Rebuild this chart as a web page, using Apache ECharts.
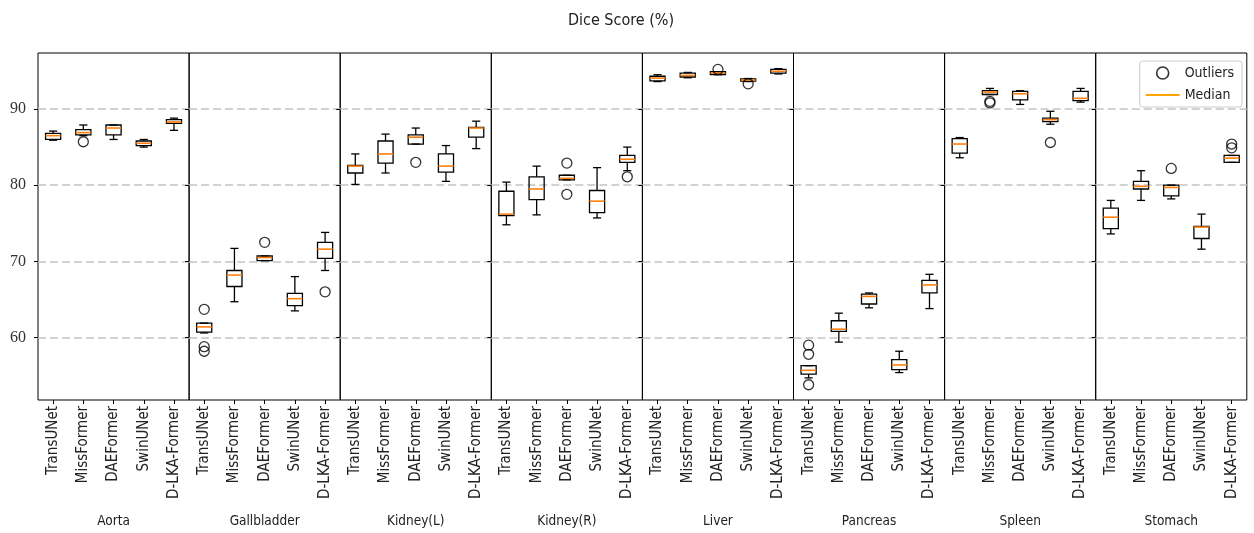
<!DOCTYPE html>
<html>
<head>
<meta charset="utf-8">
<title>Dice Score (%)</title>
<script src="https://cdn.jsdelivr.net/npm/echarts@6.0.0/dist/echarts.min.js"></script>
<style>
  html,body{margin:0;padding:0;background:#fff;}
  #chart{width:1254px;height:533px;}
</style>
</head>
<body>
<div id="chart"></div>
<script>
const organs = ['Aorta', 'Gallbladder', 'Kidney(L)', 'Kidney(R)', 'Liver', 'Pancreas', 'Spleen', 'Stomach'];
const models = ['TransUNet', 'MissFormer', 'DAEFormer', 'SwinUNet', 'D-LKA-Former'];
const yTicks = [60, 70, 80, 90];

// per model: [low whisker, q1, median, q3, high whisker]
const aorta       = [[85.9, 86.0, 86.5, 86.8, 87.1], [86.5, 86.6, 86.9, 87.3, 87.9], [86.0, 86.6, 87.5, 87.9, 87.9], [85.0, 85.2, 85.5, 85.8, 86.0], [87.2, 88.1, 88.3, 88.6, 88.8]];
const gallbladder = [[60.6, 60.7, 61.4, 61.9, 61.9], [64.7, 66.7, 68.2, 68.8, 71.7], [70.1, 70.1, 70.5, 70.7, 70.7], [63.5, 64.2, 65.1, 65.8, 68.0], [68.8, 70.4, 71.6, 72.5, 73.8]];
const kidneyL     = [[80.1, 81.6, 82.5, 82.6, 84.1], [81.6, 82.9, 84.1, 85.8, 86.7], [85.4, 85.4, 86.3, 86.6, 87.5], [80.5, 81.7, 82.5, 84.1, 85.2], [84.8, 86.3, 87.5, 87.6, 88.4]];
const kidneyR     = [[74.8, 76.0, 76.2, 79.2, 80.4], [76.1, 78.1, 79.5, 81.1, 82.5], [80.7, 80.7, 80.9, 81.3, 81.3], [75.7, 76.4, 77.9, 79.3, 82.3], [81.9, 83.0, 83.4, 83.9, 85.0]];
const liver       = [[93.6, 93.7, 94.05, 94.3, 94.5], [94.1, 94.2, 94.4, 94.7, 94.8], [94.5, 94.5, 94.7, 94.9, 94.9], [93.6, 93.65, 93.8, 93.95, 94.0], [94.6, 94.7, 94.95, 95.2, 95.3]];
const pancreas    = [[54.7, 55.2, 55.7, 56.3, 56.3], [59.4, 60.8, 61.1, 62.2, 63.2], [63.9, 64.4, 65.4, 65.7, 65.85], [55.4, 55.8, 56.4, 57.1, 58.2], [63.8, 65.85, 66.9, 67.5, 68.3]];
const spleen      = [[83.6, 84.2, 85.4, 86.1, 86.25], [91.9, 91.9, 92.2, 92.4, 92.7], [90.6, 91.2, 92.0, 92.3, 92.4], [88.0, 88.35, 88.6, 88.8, 89.7], [90.9, 91.1, 91.4, 92.3, 92.7]];
const stomach     = [[73.6, 74.3, 75.8, 77.0, 78.0], [78.0, 79.5, 79.85, 80.5, 81.9], [78.2, 78.6, 79.7, 80.0, 80.0], [71.6, 73.0, 74.5, 74.6, 76.2], [83.0, 83.0, 83.55, 83.9, 83.9]];

// outliers: [model index, value]
const aortaOut       = [[1, 85.7]];
const gallbladderOut = [[0, 63.7], [0, 58.8], [0, 58.2], [2, 72.5], [4, 66.0]];
const kidneyLOut     = [[2, 83.0]];
const kidneyROut     = [[2, 82.9], [2, 78.8], [4, 81.1]];
const liverOut       = [[2, 95.2], [3, 93.3]];
const pancreasOut    = [[0, 59.0], [0, 57.8], [0, 53.8]];
const spleenOut      = [[1, 90.8], [1, 91.0], [3, 85.6]];
const stomachOut     = [[2, 82.2], [4, 85.4], [4, 84.9]];

const boxes = [aorta, gallbladder, kidneyL, kidneyR, liver, pancreas, spleen, stomach];
const outs = [aortaOut, gallbladderOut, kidneyLOut, kidneyROut, liverOut, pancreasOut, spleenOut, stomachOut];

const FONT = '"Liberation Sans Narrow", "DejaVu Sans Condensed", "Liberation Sans", sans-serif';
const left0 = 38, panelW = 151.1, top0 = 53, panelH = 349;
const yMin = 51.8, yMax = 97.35;

function renderBox(params, api) {
  const x = api.value(0);
  const lo = api.coord([x, api.value(1)]);
  const q1 = api.coord([x, api.value(2)]);
  const md = api.coord([x, api.value(3)]);
  const q3 = api.coord([x, api.value(4)]);
  const hi = api.coord([x, api.value(5)]);
  const band = api.size([1, 0])[0];
  const bw = band * 0.5, cw = band * 0.27;
  const cx = md[0];
  const st = {stroke: '#000', lineWidth: 1.3, fill: null};
  return {
    type: 'group',
    children: [
      {type: 'line', shape: {x1: cx, y1: hi[1], x2: cx, y2: q3[1]}, style: st},
      {type: 'line', shape: {x1: cx, y1: q1[1], x2: cx, y2: lo[1]}, style: st},
      {type: 'line', shape: {x1: cx - cw / 2, y1: hi[1], x2: cx + cw / 2, y2: hi[1]}, style: st},
      {type: 'line', shape: {x1: cx - cw / 2, y1: lo[1], x2: cx + cw / 2, y2: lo[1]}, style: st},
      {type: 'rect', shape: {x: cx - bw / 2, y: q3[1], width: bw, height: q1[1] - q3[1]}, style: st},
      {type: 'line', shape: {x1: cx - bw / 2, y1: md[1], x2: cx + bw / 2, y2: md[1]}, style: {stroke: '#ff7f0e', lineWidth: 1.6}}
    ]
  };
}

const grids = [], xAxes = [], yAxes = [], series = [];
organs.forEach(function (organ, i) {
  grids.push({
    left: left0 + i * panelW, top: top0, width: panelW, height: panelH,
    show: true, borderColor: '#000', borderWidth: 1
  });
  xAxes.push({
    gridIndex: i, type: 'category', data: models,
    axisLine: {show: false},
    axisTick: {show: true, alignWithLabel: true, length: 4, lineStyle: {color: '#000'}},
    axisLabel: {rotate: 90, fontSize: 15, color: '#222', margin: 6, fontFamily: FONT},
    name: organ, nameLocation: 'middle', nameGap: 114,
    nameTextStyle: {fontSize: 13.5, color: '#222', fontFamily: FONT}
  });
  yAxes.push({
    gridIndex: i, type: 'value', min: yMin, max: yMax,
    axisLine: {show: false},
    axisTick: {show: true, length: 4, lineStyle: {color: '#000'}, customValues: yTicks},
    axisLabel: {show: i === 0, customValues: yTicks, fontSize: 16, color: '#333', margin: 12, fontFamily: '"Liberation Serif", serif'},
    splitLine: {show: true, lineStyle: {type: [8, 4], color: '#c4c4c4', width: 1.5}}
  });
  series.push({
    type: 'custom', name: 'Median', xAxisIndex: i, yAxisIndex: i,
    itemStyle: {color: '#ffa500'},
    renderItem: renderBox,
    data: boxes[i].map(function (b, j) { return [j].concat(b); })
  });
  series.push({
    type: 'scatter', name: 'Outliers', xAxisIndex: i, yAxisIndex: i,
    symbol: 'circle', symbolSize: 10,
    itemStyle: {color: 'transparent', borderColor: '#000', borderWidth: 1.3},
    data: outs[i]
  });
});

const chart = echarts.init(document.getElementById('chart'));
chart.setOption({
  animation: false,
  title: {
    text: 'Dice Score (%)', left: 616, top: 8, textAlign: 'center',
    textStyle: {fontSize: 16, fontWeight: 'normal', color: '#222', fontFamily: FONT}
  },
  legend: {
    orient: 'vertical', right: 12, top: 61,
    padding: [5, 8, 5, 6], itemGap: 8, itemWidth: 34, itemHeight: 12,
    borderColor: '#ccc', borderWidth: 1, borderRadius: 3,
    textStyle: {fontSize: 14, color: '#222', fontFamily: FONT},
    data: [
      {name: 'Outliers', icon: 'circle', itemStyle: {color: 'transparent', borderColor: '#000', borderWidth: 1.6}},
      {name: 'Median', icon: 'path://M0,0H34V2H0Z', itemStyle: {color: '#ffa500'}}
    ]
  },
  grid: grids,
  xAxis: xAxes,
  yAxis: yAxes,
  series: series
});
</script>
</body>
</html>
